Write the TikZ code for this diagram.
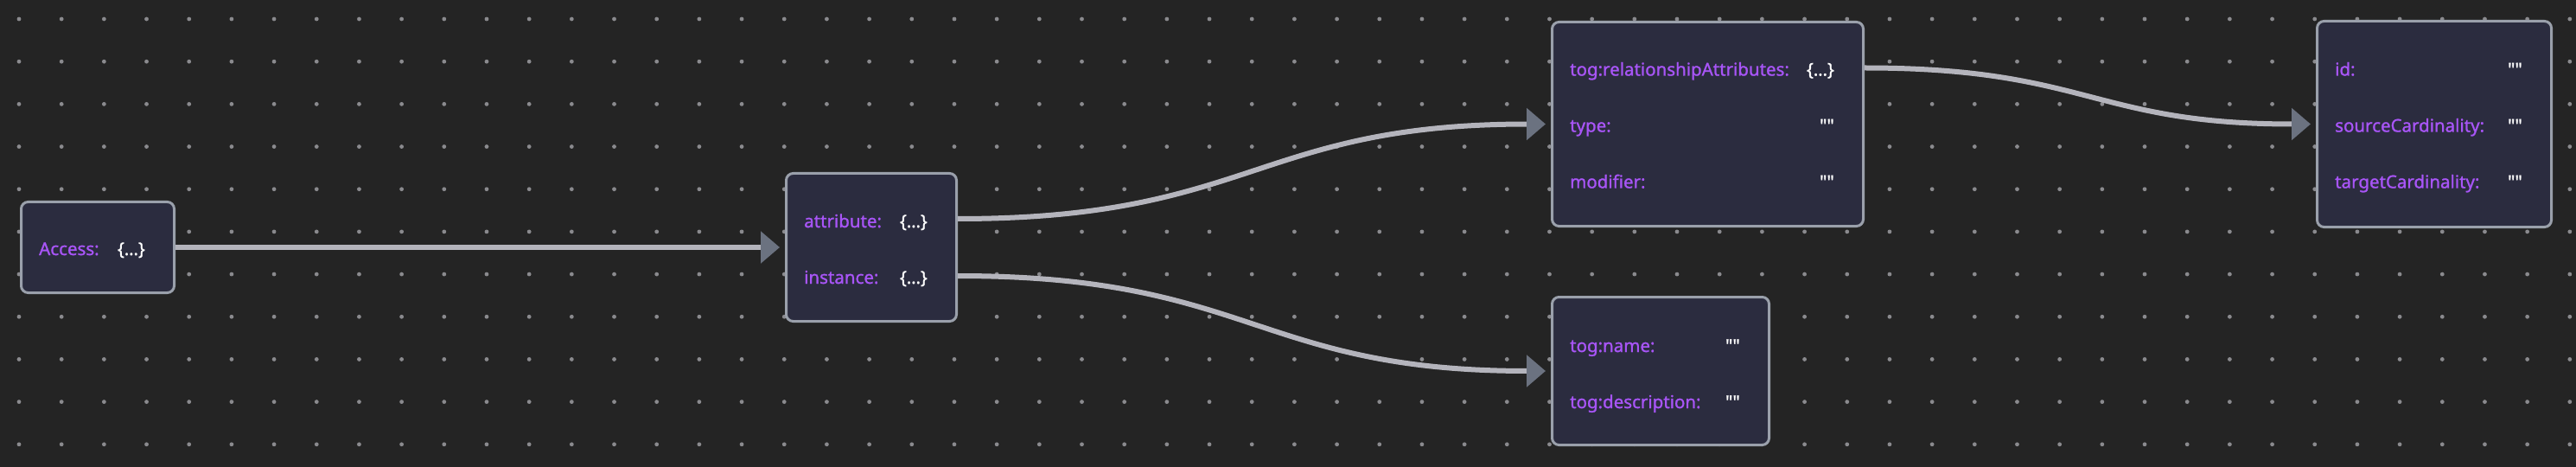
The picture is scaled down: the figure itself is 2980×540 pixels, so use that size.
\documentclass[tikz,border=0pt]{standalone}
\usepackage{fontspec}
\setmainfont{Noto Sans}[Ligatures=TeXOff, FakeBold=1.2]
\usetikzlibrary{positioning, arrows.meta, calc}

\definecolor{bgcol}{HTML}{242424}
\definecolor{dotcol}{HTML}{8A8A8E}
\definecolor{cardfill}{HTML}{2B2C3F}
\definecolor{cardline}{HTML}{9AA0AB}
\definecolor{keycol}{HTML}{A855F7}
\definecolor{linkcol}{HTML}{B4B4BC}
\definecolor{tipcol}{HTML}{6B7280}

\begin{document}
\begin{tikzpicture}[x=1pt, y=-1pt,
    card/.style={draw=cardline, line width=3pt, fill=cardfill, rounded corners=8pt},
    key/.style={anchor=base west, inner sep=0pt, text=keycol, font=\fontsize{20.5}{24}\selectfont},
    val/.style={anchor=base east, inner sep=0pt, text=white, font=\fontsize{20.5}{24}\selectfont},
    link/.style={line width=6pt, draw=linkcol, -{Triangle[length=22pt, width=36pt, color=tipcol]}, shorten >=6pt}]
    \fill [bgcol] (0,0) rectangle (2980,540);
    \useasboundingbox (0,0) rectangle (2980,540);
    % dotted canvas
    \foreach \i in {0,...,60}
        \foreach \j in {0,...,10}
            \fill [dotcol] ({22+49.18*\i},{22+49.18*\j}) circle [radius=2.4pt];

    % cards
    \node (Access) [card, minimum width=177pt, minimum height=105pt] at (113,286) {};
    \node (Attr) [card, minimum width=197pt, minimum height=171pt] at (1008,286) {};
    \node (Rel) [card, minimum width=360pt, minimum height=236pt] at (1975.5,143.5) {};
    \node (Ids) [card, minimum width=271pt, minimum height=238pt] at (2816,143.5) {};
    \node (Name) [card, minimum width=251pt, minimum height=171pt] at (1921,429) {};

    % rows
    \node (AccessKey) [key] at ($(Access.west)+(22,9)$) {Access:};
    \node (AccessVal) [val] at ($(Access.east)+(-35,9)$) {\{…\}};
    \node (AttrKey) [key] at ($(Attr.west)+(22,-23)$) {attribute:};
    \node (AttrVal) [val] at ($(Attr.east)+(-35,-23)$) {\{…\}};
    \node (InstKey) [key] at ($(Attr.west)+(22,42)$) {instance:};
    \node (InstVal) [val] at ($(Attr.east)+(-35,42)$) {\{…\}};
    \node (RelKey) [key] at ($(Rel.west)+(22,-56)$) {tog:relationshipAttributes:};
    \node (RelVal) [val] at ($(Rel.east)+(-35,-56)$) {\{…\}};
    \node (TypeKey) [key] at ($(Rel.west)+(22,9)$) {type:};
    \node (TypeVal) [val] at ($(Rel.east)+(-35,9)$) {""};
    \node (ModKey) [key] at ($(Rel.west)+(22,74)$) {modifier:};
    \node (ModVal) [val] at ($(Rel.east)+(-35,74)$) {""};
    \node (IdKey) [key] at ($(Ids.west)+(22,-56)$) {id:};
    \node (IdVal) [val] at ($(Ids.east)+(-35,-56)$) {""};
    \node (SrcKey) [key] at ($(Ids.west)+(22,9)$) {sourceCardinality:};
    \node (SrcVal) [val] at ($(Ids.east)+(-35,9)$) {""};
    \node (TgtKey) [key] at ($(Ids.west)+(22,74)$) {targetCardinality:};
    \node (TgtVal) [val] at ($(Ids.east)+(-35,74)$) {""};
    \node (NameKey) [key] at ($(Name.west)+(22,-22)$) {tog:name:};
    \node (NameVal) [val] at ($(Name.east)+(-35,-22)$) {""};
    \node (DescKey) [key] at ($(Name.west)+(22,43)$) {tog:description:};
    \node (DescVal) [val] at ($(Name.east)+(-35,43)$) {""};

    % row outlets
    \coordinate (AttrOut) at ($(Attr.east)+(0,-33)$);
    \coordinate (InstOut) at ($(Attr.east)+(0,33)$);
    \coordinate (RelOut) at ($(Rel.east)+(0,-65)$);

    % links
    \draw [link] (Access) -- (Attr);
    \draw [link] (AttrOut) .. controls +(340,0) and +(-340,0) .. (Rel.west);
    \draw [link] (InstOut) .. controls +(340,0) and +(-340,0) .. (Name.west);
    \draw [link] (RelOut) .. controls +(258,0) and +(-258,0) .. (Ids.west);
\end{tikzpicture}
\end{document}
